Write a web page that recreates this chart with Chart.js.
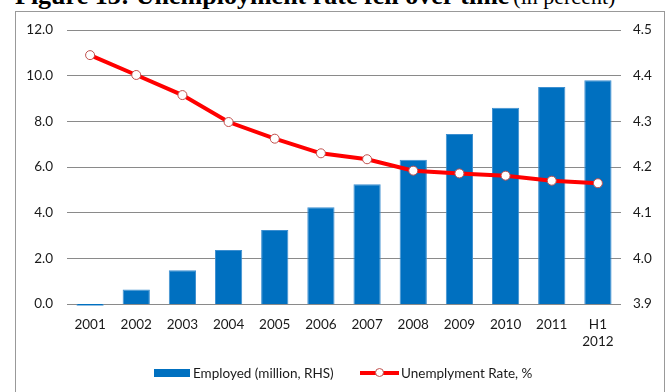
<!DOCTYPE html>
<html>
<head>
<meta charset="utf-8">
<script src="https://cdn.jsdelivr.net/npm/chart.js@4"></script>
<style>
  html, body { margin: 0; padding: 0; background: #fff; }
  body { width: 666px; height: 392px; position: relative; overflow: hidden; font-family: Lato, "Open Sans", sans-serif; }
  .title { position: absolute; left: 15px; top: -17px; line-height: 26px; white-space: nowrap; font-family: "Liberation Serif", "DejaVu Serif", serif; color: #000; }
  .title b { font-size: 26px; }
  .title span { font-size: 22px; }
  .frame { position: absolute; left: 15px; top: 11px; width: 650px; height: 400px; border: 1px solid #999; box-sizing: border-box; }
  #wrap { position: absolute; left: 0; top: 0; width: 666px; height: 392px; }
  .legend { position: absolute; top: 365px; left: 0; font-size: 13.5px; color: #1a1a1a; }
  .legend .item { position: absolute; white-space: nowrap; line-height: 16px; }
  .swatch-bar { position: absolute; width: 36px; height: 8px; top: 4px; background: #0070C0; }
  .swatch-line { position: absolute; width: 39px; height: 4px; top: 6px; background: #FF0000; }
  .swatch-line i { position: absolute; left: 15px; top: -3px; width: 9px; height: 9px; border-radius: 50%; background: #fff; border: 1px solid #C0504D; box-sizing: border-box; }
</style>
</head>
<body>
<div class="title"><b>Figure 13: Unemployment rate fell over time</b> <span>(in percent)</span></div>
<div class="frame"></div>
<div id="wrap"><canvas id="chart" width="666" height="392"></canvas></div>
<div class="legend">
  <div class="item" style="left:154px;"><div class="swatch-bar"></div><span style="margin-left:39px;">Employed (million, RHS)</span></div>
  <div class="item" style="left:360px;"><div class="swatch-line"><i></i></div><span style="margin-left:41px;">Unemplyment Rate, %</span></div>
</div>
<script>
// categories and series
const labels = ['2001', '2002', '2003', '2004', '2005', '2006', '2007', '2008', '2009', '2010', '2011', ['H1', '2012']];
const employed = [3.896, 3.932, 3.974, 4.018, 4.062, 4.112, 4.162, 4.216, 4.272, 4.330, 4.375, 4.390];
const unemploymentRate = [10.9, 10.03, 9.15, 7.97, 7.24, 6.6, 6.34, 5.84, 5.72, 5.62, 5.40, 5.29];

const leftTicks = { min: 0, max: 12, step: 2 };
const rightTicks = { min: 3.9, max: 4.5, step: 0.1 };

const tickFont = { family: 'Lato, "Open Sans", sans-serif', size: 13.5 };
const textColor = '#1a1a1a';

new Chart(document.getElementById('chart'), {
  data: {
    labels,
    datasets: [
      {
        type: 'line',
        label: 'Unemplyment Rate, %',
        data: unemploymentRate,
        yAxisID: 'y',
        borderColor: '#FF0000',
        borderWidth: 4,
        pointRadius: 4.5,
        pointBorderWidth: 1,
        pointBorderColor: '#C0504D',
        pointBackgroundColor: '#ffffff',
        tension: 0,
        order: 0
      },
      {
        type: 'bar',
        label: 'Employed (million, RHS)',
        data: employed,
        yAxisID: 'y1',
        base: rightTicks.min,   // bars grow from the bottom of the RHS axis
        backgroundColor: '#0070C0',
        borderColor: '#3d8fd0',
        borderWidth: 1,
        categoryPercentage: 1,
        barPercentage: 0.59,
        clip: false,
        order: 1
      }
    ]
  },
  options: {
    responsive: false,
    animation: false,
    layout: { padding: { top: 30, left: 0, right: 0, bottom: 0 } },
    plugins: { legend: { display: false }, tooltip: { enabled: false } },
    scales: {
      x: {
        grid: { display: false },
        border: { display: false },
        ticks: { color: textColor, font: tickFont, padding: 5, maxRotation: 0, autoSkip: false },
        afterFit: s => { s.height = 88; }
      },
      y: {
        position: 'left',
        min: leftTicks.min,
        max: leftTicks.max,
        grid: { color: '#8a8a8a', lineWidth: 1, drawTicks: false },
        border: { display: false },
        ticks: {
          stepSize: leftTicks.step,
          color: textColor,
          font: tickFont,
          padding: 14,
          callback: v => v.toFixed(1)
        },
        afterFit: s => { s.width = 67; }
      },
      y1: {
        position: 'right',
        min: rightTicks.min,
        max: rightTicks.max,
        grid: { display: false, drawTicks: false },
        border: { display: false },
        ticks: {
          stepSize: rightTicks.step,
          color: textColor,
          font: tickFont,
          padding: 12,
          callback: v => v.toFixed(1)
        },
        afterFit: s => { s.width = 45; }
      }
    }
  }
});
</script>
</body>
</html>
